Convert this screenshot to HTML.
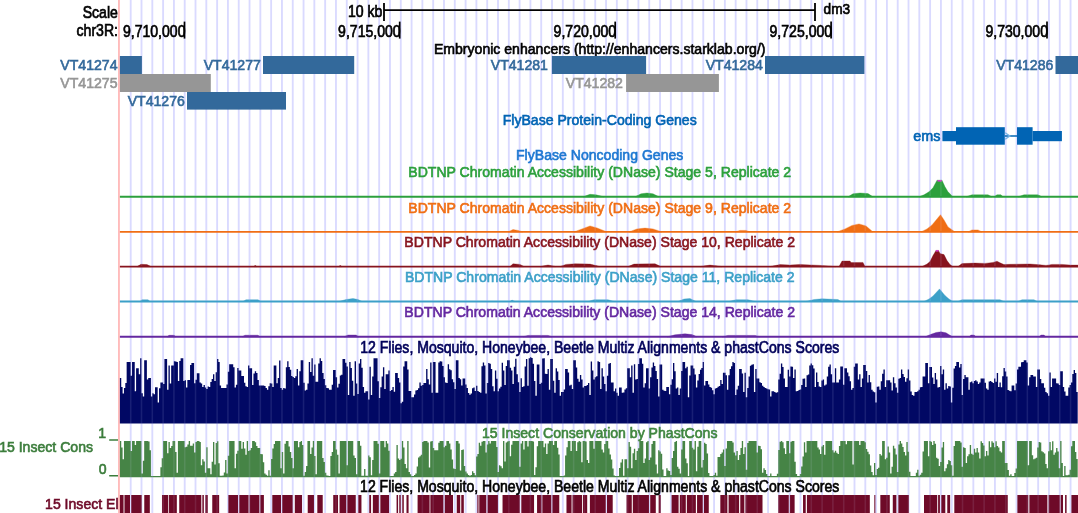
<!DOCTYPE html>
<html><head><meta charset="utf-8"><title>UCSC Genome Browser</title>
<style>
html,body{margin:0;padding:0;background:#fff;}
body{width:1078px;height:513px;overflow:hidden;}
svg{display:block;font-family:"Liberation Sans",sans-serif;opacity:0.9999;will-change:transform;}
</style></head><body>
<svg width="1078" height="513" viewBox="0 0 1078 513">
<rect width="1078" height="513" fill="#fff"/>
<path d="M130.70 0V513 M141.51 0V513 M152.31 0V513 M163.11 0V513 M173.92 0V513 M184.72 0V513 M195.52 0V513 M206.32 0V513 M217.13 0V513 M227.93 0V513 M238.73 0V513 M249.54 0V513 M260.34 0V513 M271.14 0V513 M281.95 0V513 M292.75 0V513 M303.55 0V513 M314.35 0V513 M325.16 0V513 M335.96 0V513 M346.76 0V513 M357.57 0V513 M368.37 0V513 M379.17 0V513 M389.98 0V513 M400.78 0V513 M411.58 0V513 M422.38 0V513 M433.19 0V513 M443.99 0V513 M454.79 0V513 M465.60 0V513 M476.40 0V513 M487.20 0V513 M498.00 0V513 M508.81 0V513 M519.61 0V513 M530.41 0V513 M541.22 0V513 M552.02 0V513 M562.82 0V513 M573.63 0V513 M584.43 0V513 M595.23 0V513 M606.04 0V513 M616.84 0V513 M627.64 0V513 M638.44 0V513 M649.25 0V513 M660.05 0V513 M670.85 0V513 M681.66 0V513 M692.46 0V513 M703.26 0V513 M714.07 0V513 M724.87 0V513 M735.67 0V513 M746.47 0V513 M757.28 0V513 M768.08 0V513 M778.88 0V513 M789.69 0V513 M800.49 0V513 M811.29 0V513 M822.10 0V513 M832.90 0V513 M843.70 0V513 M854.50 0V513 M865.31 0V513 M876.11 0V513 M886.91 0V513 M897.72 0V513 M908.52 0V513 M919.32 0V513 M930.12 0V513 M940.93 0V513 M951.73 0V513 M962.53 0V513 M973.34 0V513 M984.14 0V513 M994.94 0V513 M1005.75 0V513 M1016.55 0V513 M1027.35 0V513 M1038.16 0V513 M1048.96 0V513 M1059.76 0V513 M1070.56 0V513" stroke="#dadaff" stroke-width="1.85" fill="none"/>
<rect x="118.10" y="0.00" width="1.70" height="513.00" fill="#ffb4b4"/>
<text transform="translate(117.90,18.00) scale(1,1.12)" text-anchor="end" fill="#000" font-size="14.08" stroke="#000" stroke-width="0.6">Scale</text>
<text transform="translate(382.30,16.50) scale(1,1.11)" text-anchor="end" fill="#000" font-size="14.08" stroke="#000" stroke-width="0.6">10 kb</text>
<path d="M384.0 3.1V20.9M815.00 3.1V20.9M384.0 10.2H815.00" stroke="#000" stroke-width="1.8" fill="none"/>
<text transform="translate(823.60,13.50) scale(1,1.1)" text-anchor="start" fill="#000" font-size="13.7" stroke="#000" stroke-width="0.6">dm3</text>
<text transform="translate(118.00,36.10) scale(1,1.13)" text-anchor="end" fill="#000" font-size="14.08" stroke="#000" stroke-width="0.6">chr3R:</text>
<path d="M184.50 21.6V38.6" stroke="#000" stroke-width="1.7"/>
<text transform="translate(185.50,37.10) scale(1,1.11)" text-anchor="end" fill="#000" font-size="14.08" stroke="#000" stroke-width="0.6">9,710,000</text>
<path d="M399.70 21.6V38.6" stroke="#000" stroke-width="1.7"/>
<text transform="translate(400.70,37.10) scale(1,1.11)" text-anchor="end" fill="#000" font-size="14.08" stroke="#000" stroke-width="0.6">9,715,000</text>
<path d="M615.20 21.6V38.6" stroke="#000" stroke-width="1.7"/>
<text transform="translate(616.20,37.10) scale(1,1.11)" text-anchor="end" fill="#000" font-size="14.08" stroke="#000" stroke-width="0.6">9,720,000</text>
<path d="M831.10 21.6V38.6" stroke="#000" stroke-width="1.7"/>
<text transform="translate(832.10,37.10) scale(1,1.11)" text-anchor="end" fill="#000" font-size="14.08" stroke="#000" stroke-width="0.6">9,725,000</text>
<path d="M1047.00 21.6V38.6" stroke="#000" stroke-width="1.7"/>
<text transform="translate(1048.00,37.10) scale(1,1.11)" text-anchor="end" fill="#000" font-size="14.08" stroke="#000" stroke-width="0.6">9,730,000</text>
<text transform="translate(599.70,53.80) scale(1,1.03)" text-anchor="middle" fill="#000" font-size="14.08" stroke="#000" stroke-width="0.6">Embryonic enhancers (http://enhancers.starklab.org/)</text>
<rect x="119.90" y="56.00" width="22.00" height="18.00" fill="#33699b"/>
<text transform="translate(117.50,69.90) scale(1,1.0)" text-anchor="end" fill="#33699b" font-size="14.08" stroke="#33699b" stroke-width="0.6">VT41274</text>
<rect x="119.90" y="74.00" width="90.90" height="18.00" fill="#969696"/>
<text transform="translate(117.50,87.90) scale(1,1.0)" text-anchor="end" fill="#969696" font-size="14.08" stroke="#969696" stroke-width="0.6">VT41275</text>
<rect x="187.00" y="92.00" width="99.00" height="17.60" fill="#33699b"/>
<text transform="translate(184.80,105.90) scale(1,1.0)" text-anchor="end" fill="#33699b" font-size="14.08" stroke="#33699b" stroke-width="0.6">VT41276</text>
<rect x="263.00" y="56.00" width="91.20" height="18.00" fill="#33699b"/>
<text transform="translate(260.80,69.90) scale(1,1.0)" text-anchor="end" fill="#33699b" font-size="14.08" stroke="#33699b" stroke-width="0.6">VT41277</text>
<rect x="551.90" y="56.00" width="94.20" height="18.00" fill="#33699b"/>
<text transform="translate(547.90,69.90) scale(1,1.0)" text-anchor="end" fill="#33699b" font-size="14.08" stroke="#33699b" stroke-width="0.6">VT41281</text>
<rect x="626.10" y="74.00" width="92.80" height="18.00" fill="#969696"/>
<text transform="translate(622.90,87.90) scale(1,1.0)" text-anchor="end" fill="#969696" font-size="14.08" stroke="#969696" stroke-width="0.6">VT41282</text>
<rect x="765.00" y="56.00" width="99.40" height="18.00" fill="#33699b"/>
<text transform="translate(762.80,69.90) scale(1,1.0)" text-anchor="end" fill="#33699b" font-size="14.08" stroke="#33699b" stroke-width="0.6">VT41284</text>
<rect x="1055.50" y="56.00" width="22.50" height="18.00" fill="#33699b"/>
<text transform="translate(1053.30,69.90) scale(1,1.0)" text-anchor="end" fill="#33699b" font-size="14.08" stroke="#33699b" stroke-width="0.6">VT41286</text>
<text transform="translate(599.70,124.90) scale(1,1.03)" text-anchor="middle" fill="#0064b4" font-size="14.08" stroke="#0064b4" stroke-width="0.6">FlyBase Protein-Coding Genes</text>
<text transform="translate(940.50,141.00) scale(1,1.0)" text-anchor="end" fill="#0064b4" font-size="14.4" stroke="#0064b4" stroke-width="0.6">ems</text>
<rect x="942.40" y="131.00" width="13.60" height="10.20" fill="#0064b4"/>
<rect x="956.00" y="127.20" width="48.80" height="17.50" fill="#0064b4"/>
<path d="M1004.8 136H1017" stroke="#0064b4" stroke-width="1.5"/>
<path d="M1005.2 132.8L1009.8 136L1005.2 139.2" stroke="#78b4e6" stroke-width="1.4" fill="none"/>
<rect x="1017.00" y="127.20" width="15.60" height="17.50" fill="#0064b4"/>
<rect x="1032.60" y="131.00" width="29.30" height="10.20" fill="#0064b4"/>
<text transform="translate(599.70,160.00) scale(1,1.03)" text-anchor="middle" fill="#1e78d2" font-size="14.08" stroke="#1e78d2" stroke-width="0.6">FlyBase Noncoding Genes</text>
<text transform="translate(599.70,177.40) scale(1,1.03)" text-anchor="middle" fill="#2ca03c" font-size="14.08" stroke="#2ca03c" stroke-width="0.6">BDTNP Chromatin Accessibility (DNase) Stage 5, Replicate 2</text>
<path d="M119.9 196.8H1078" stroke="#2ca03c" stroke-width="1.9"/>
<path d="M583.0 196.8L590.0 194.3L596.0 194.8L604.0 196.8ZM635.0 196.8L641.0 193.8L647.0 193.0L653.0 193.8L659.0 196.8ZM848.0 196.8L853.0 193.8L860.0 193.0L868.0 193.6L873.0 196.8ZM919.0 196.8L924.0 194.8L929.0 191.8L933.0 187.8L937.0 180.2L942.0 180.2L945.0 186.8L948.0 191.8L953.0 196.8ZM966.0 196.8L972.0 194.8L988.0 194.8L992.0 196.8ZM994.0 196.8L997.0 194.8L1001.0 194.8L1003.0 196.8ZM1018.0 196.8L1024.0 194.8L1038.0 194.8L1042.0 196.8Z" fill="#2ca03c" stroke="#2ca03c" stroke-width="0.35" stroke-linejoin="round"/>
<text transform="translate(599.70,212.80) scale(1,1.03)" text-anchor="middle" fill="#f06e14" font-size="14.08" stroke="#f06e14" stroke-width="0.6">BDTNP Chromatin Accessibility (DNase) Stage 9, Replicate 2</text>
<path d="M119.9 231.9H1078" stroke="#f06e14" stroke-width="1.9"/>
<path d="M508.0 231.9L513.0 229.6L518.0 230.4L523.0 231.9ZM574.0 231.9L582.0 228.9L590.0 225.9L597.0 227.9L607.0 231.9ZM629.0 231.9L637.0 228.9L645.0 228.1L653.0 228.9L662.0 231.9ZM735.0 231.9L740.0 230.4L746.0 230.4L750.0 231.9ZM837.0 231.9L845.0 228.9L852.0 225.4L859.0 223.9L866.0 225.9L873.0 231.9ZM921.0 231.9L927.0 228.9L932.0 224.9L937.0 218.9L940.5 214.7L944.0 219.9L948.0 226.9L955.0 231.9ZM968.0 231.9L972.0 229.9L978.0 229.9L982.0 231.9Z" fill="#f06e14" stroke="#f06e14" stroke-width="0.35" stroke-linejoin="round"/>
<text transform="translate(599.70,247.30) scale(1,1.03)" text-anchor="middle" fill="#87141e" font-size="14.08" stroke="#87141e" stroke-width="0.6">BDTNP Chromatin Accessibility (DNase) Stage 10, Replicate 2</text>
<path d="M119.9 266.6H1078" stroke="#87141e" stroke-width="1.9"/>
<path d="M137.0 266.6L141.0 264.3L147.0 264.6L151.0 266.6ZM254.0 266.6L255.0 265.3L257.0 266.6ZM339.0 266.6L340.0 265.3L342.0 266.6ZM510.0 266.6L513.0 263.8L520.0 264.4L524.0 266.6ZM540.0 266.6L548.0 265.0L556.0 266.6ZM560.0 266.6L566.0 264.4L575.0 263.8L590.0 264.1L600.0 266.6ZM628.0 266.6L634.0 264.1L655.0 263.8L661.0 266.6ZM700.0 266.6L710.0 265.1L722.0 266.6ZM770.0 266.6L780.0 264.6L790.0 265.1L800.0 264.4L820.0 265.4L836.0 266.6ZM839.0 266.6L842.0 261.1L850.0 261.0L851.0 262.6L863.0 262.4L865.0 266.6ZM922.0 266.6L927.0 264.1L930.0 261.6L933.0 255.6L936.0 250.4L938.5 250.4L940.0 253.6L944.0 254.6L947.0 260.6L950.0 264.6L953.0 266.6ZM958.0 266.6L962.0 263.6L975.0 263.1L985.0 263.4L993.0 262.4L997.0 261.2L1000.0 262.8L1004.0 264.6L1010.0 264.3L1030.0 264.0L1040.0 264.8L1046.0 265.4L1052.0 264.4L1062.0 264.4L1070.0 265.1L1078.0 265.1L1078.0 266.6Z" fill="#87141e" stroke="#87141e" stroke-width="0.35" stroke-linejoin="round"/>
<text transform="translate(599.70,281.70) scale(1,1.03)" text-anchor="middle" fill="#3ca0c8" font-size="14.08" stroke="#3ca0c8" stroke-width="0.6">BDTNP Chromatin Accessibility (DNase) Stage 11, Replicate 2</text>
<path d="M119.9 301.5H1078" stroke="#3ca0c8" stroke-width="1.9"/>
<path d="M140.0 301.5L142.0 299.7L148.0 299.7L150.0 301.5ZM243.0 301.5L246.0 299.7L258.0 299.7L261.0 301.5ZM339.0 301.5L346.0 299.5L353.0 298.5L358.0 299.5L362.0 301.5ZM510.0 301.5L512.0 300.1L515.0 301.5ZM588.0 301.5L594.0 299.7L608.0 299.7L614.0 301.5ZM678.0 301.5L684.0 299.0L690.0 298.5L696.0 301.5ZM729.0 301.5L736.0 299.7L748.0 299.7L755.0 301.5ZM806.0 301.5L814.0 299.5L822.0 298.8L838.0 299.5L841.0 301.5ZM924.0 301.5L929.0 299.0L933.0 296.0L939.5 288.9L945.0 295.5L949.0 299.0L953.0 301.5ZM958.0 301.5L962.0 299.7L1000.0 299.7L1004.0 301.5ZM1018.0 301.5L1022.0 299.7L1034.0 299.7L1037.0 301.5Z" fill="#3ca0c8" stroke="#3ca0c8" stroke-width="0.35" stroke-linejoin="round"/>
<text transform="translate(599.70,316.70) scale(1,1.03)" text-anchor="middle" fill="#6428a0" font-size="14.08" stroke="#6428a0" stroke-width="0.6">BDTNP Chromatin Accessibility (DNase) Stage 14, Replicate 2</text>
<path d="M119.9 336.8H1078" stroke="#6428a0" stroke-width="1.9"/>
<path d="M167.0 336.8L169.0 335.3L174.0 335.3L176.0 336.8ZM242.0 336.8L245.0 335.2L258.0 335.2L260.0 336.8ZM344.0 336.8L348.0 335.0L356.0 335.0L359.0 336.8ZM523.0 336.8L528.0 335.4L548.0 335.4L552.0 336.8ZM667.0 336.8L675.0 334.8L685.0 333.8L692.0 334.6L697.0 336.8ZM722.0 336.8L728.0 335.4L755.0 335.4L760.0 336.8ZM925.0 336.8L931.0 334.3L936.0 332.5L941.0 331.8L946.0 332.8L950.0 335.3L953.0 336.8ZM969.0 336.8L971.0 335.0L974.0 335.0L976.0 336.8ZM1039.0 336.8L1041.0 335.0L1044.0 335.0L1046.0 336.8Z" fill="#6428a0" stroke="#6428a0" stroke-width="0.35" stroke-linejoin="round"/>
<rect x="937.50" y="180.00" width="4.20" height="1.60" fill="#d23cc8"/>
<rect x="935.80" y="250.00" width="2.80" height="1.60" fill="#d23cc8"/>
<text transform="translate(599.70,353.00) scale(1,1.14)" text-anchor="middle" fill="#00005a" font-size="14.08" stroke="#00005a" stroke-width="0.6">12 Flies, Mosquito, Honeybee, Beetle Multiz Alignments &amp; phastCons Scores</text>
<text transform="translate(599.70,438.20) scale(1,1.1)" text-anchor="middle" fill="#3f863f" font-size="14.08" stroke="#3f863f" stroke-width="0.6">15 Insect Conservation by PhastCons</text>
<text transform="translate(599.70,491.90) scale(1,1.11)" text-anchor="middle" fill="#000" font-size="14.08" stroke="#000" stroke-width="0.6">12 Flies, Mosquito, Honeybee, Beetle Multiz Alignments &amp; phastCons Scores</text>
<path d="M119.9 423.5V378.0h1.349V386.9h1.349V393.6h1.349V388.1h1.349V383.1h1.349V362.1h1.349V362.1h1.349V362.1h1.349V375.7h1.349V362.1h1.349V362.1h1.349V391.3h1.349V368.3h1.349V368.3h1.349V374.3h1.349V358.2h1.349V393.3h1.349V396.5h1.349V360.2h1.349V360.2h1.349V379.5h1.349V378.0h1.349V378.0h1.349V396.5h1.349V393.3h1.349V394.3h1.349V387.2h1.349V387.2h1.349V402.5h1.349V388.2h1.349V382.4h1.349V382.4h1.349V383.9h1.349V359.1h1.349V359.1h1.349V389.8h1.349V365.4h1.349V383.5h1.349V365.4h1.349V365.4h1.349V361.2h1.349V361.6h1.349V362.1h1.349V380.9h1.349V361.1h1.349V358.2h1.349V358.2h1.349V380.9h1.349V380.2h1.349V387.6h1.349V379.9h1.349V379.9h1.349V365.1h1.349V363.1h1.349V363.1h1.349V383.2h1.349V379.8h1.349V373.2h1.349V373.2h1.349V382.5h1.349V383.6h1.349V386.9h1.349V384.9h1.349V387.6h1.349V389.1h1.349V386.5h1.349V386.9h1.349V382.1h1.349V379.0h1.349V374.3h1.349V380.9h1.349V372.3h1.349V359.1h1.349V362.1h1.349V385.4h1.349V387.9h1.349V387.9h1.349V387.9h1.349V387.9h1.349V384.4h1.349V371.8h1.349V364.2h1.349V364.2h1.349V364.2h1.349V367.2h1.349V387.6h1.349V384.8h1.349V368.0h1.349V370.6h1.349V370.6h1.349V376.0h1.349V376.0h1.349V382.8h1.349V386.3h1.349V386.9h1.349V365.4h1.349V368.3h1.349V368.3h1.349V384.9h1.349V373.6h1.349V371.3h1.349V373.0h1.349V380.0h1.349V385.4h1.349V385.4h1.349V385.4h1.349V385.4h1.349V385.9h1.349V387.9h1.349V389.8h1.349V386.3h1.349V383.2h1.349V383.6h1.349V386.9h1.349V365.4h1.349V365.4h1.349V383.2h1.349V378.0h1.349V360.6h1.349V388.0h1.349V389.8h1.349V387.9h1.349V388.4h1.349V367.2h1.349V361.2h1.349V367.1h1.349V369.8h1.349V376.0h1.349V377.0h1.349V378.0h1.349V376.2h1.349V369.1h1.349V385.4h1.349V371.3h1.349V360.2h1.349V360.2h1.349V382.8h1.349V390.6h1.349V389.7h1.349V383.6h1.349V362.1h1.349V372.0h1.349V358.2h1.349V375.7h1.349V364.6h1.349V381.7h1.349V381.7h1.349V363.5h1.349V358.2h1.349V361.0h1.349V373.0h1.349V379.1h1.349V385.2h1.349V387.9h1.349V388.3h1.349V389.8h1.349V389.8h1.349V384.8h1.349V370.1h1.349V370.1h1.349V377.2h1.349V387.6h1.349V383.7h1.349V375.4h1.349V374.8h1.349V359.1h1.349V359.1h1.349V362.8h1.349V366.5h1.349V395.0h1.349V362.1h1.349V368.0h1.349V380.8h1.349V395.8h1.349V361.2h1.349V383.4h1.349V393.9h1.349V363.6h1.349V359.1h1.349V367.8h1.349V387.0h1.349V392.8h1.349V391.3h1.349V391.3h1.349V399.5h1.349V366.8h1.349V395.0h1.349V376.5h1.349V358.2h1.349V358.2h1.349V358.2h1.349V381.2h1.349V398.0h1.349V387.2h1.349V376.4h1.349V367.2h1.349V389.1h1.349V374.3h1.349V374.3h1.349V370.6h1.349V390.9h1.349V390.0h1.349V386.9h1.349V391.8h1.349V373.1h1.349V373.1h1.349V378.1h1.349V382.4h1.349V403.2h1.349V401.8h1.349V366.6h1.349V361.2h1.349V361.2h1.349V369.6h1.349V390.9h1.349V390.9h1.349V397.3h1.349V397.2h1.349V394.4h1.349V390.6h1.349V390.1h1.349V388.3h1.349V382.4h1.349V385.8h1.349V385.1h1.349V383.1h1.349V382.9h1.349V369.1h1.349V379.3h1.349V384.4h1.349V362.4h1.349V392.8h1.349V362.1h1.349V362.1h1.349V392.8h1.349V392.8h1.349V362.6h1.349V361.2h1.349V361.4h1.349V366.1h1.349V377.2h1.349V382.6h1.349V382.9h1.349V364.2h1.349V369.2h1.349V370.3h1.349V379.2h1.349V382.2h1.349V389.1h1.349V360.2h1.349V360.2h1.349V378.1h1.349V379.3h1.349V385.4h1.349V378.4h1.349V378.4h1.349V384.6h1.349V387.9h1.349V392.9h1.349V394.7h1.349V393.4h1.349V388.2h1.349V387.6h1.349V390.9h1.349V385.8h1.349V391.0h1.349V392.1h1.349V392.8h1.349V366.3h1.349V362.4h1.349V365.6h1.349V393.6h1.349V383.0h1.349V363.1h1.349V363.7h1.349V369.0h1.349V386.3h1.349V391.3h1.349V370.6h1.349V378.7h1.349V391.3h1.349V388.5h1.349V386.8h1.349V362.7h1.349V370.5h1.349V384.9h1.349V365.9h1.349V360.2h1.349V360.2h1.349V367.7h1.349V370.4h1.349V383.9h1.349V366.8h1.349V358.7h1.349V374.3h1.349V382.2h1.349V392.1h1.349V378.3h1.349V386.9h1.349V386.2h1.349V366.5h1.349V359.1h1.349V385.8h1.349V358.2h1.349V357.2h1.349V357.9h1.349V363.7h1.349V381.0h1.349V395.8h1.349V364.6h1.349V364.6h1.349V383.9h1.349V382.8h1.349V358.6h1.349V358.2h1.349V373.7h1.349V374.0h1.349V369.1h1.349V389.8h1.349V359.1h1.349V359.1h1.349V380.8h1.349V392.8h1.349V368.3h1.349V371.4h1.349V380.0h1.349V395.8h1.349V392.1h1.349V392.1h1.349V389.6h1.349V369.1h1.349V369.1h1.349V372.6h1.349V385.4h1.349V384.7h1.349V389.1h1.349V360.2h1.349V360.2h1.349V367.6h1.349V378.8h1.349V381.7h1.349V375.0h1.349V379.6h1.349V387.6h1.349V386.1h1.349V386.1h1.349V384.9h1.349V383.0h1.349V395.0h1.349V361.6h1.349V370.5h1.349V379.5h1.349V377.3h1.349V376.2h1.349V361.2h1.349V362.1h1.349V389.1h1.349V368.3h1.349V376.6h1.349V384.1h1.349V391.3h1.349V375.7h1.349V363.8h1.349V363.1h1.349V382.4h1.349V382.4h1.349V391.3h1.349V388.4h1.349V392.8h1.349V395.8h1.349V387.6h1.349V387.6h1.349V392.8h1.349V392.4h1.349V389.6h1.349V388.3h1.349V368.3h1.349V368.3h1.349V377.2h1.349V365.4h1.349V392.8h1.349V364.2h1.349V379.5h1.349V378.9h1.349V363.9h1.349V358.2h1.349V358.2h1.349V363.8h1.349V387.6h1.349V383.3h1.349V368.3h1.349V368.3h1.349V388.4h1.349V377.2h1.349V367.6h1.349V362.4h1.349V365.9h1.349V371.1h1.349V378.9h1.349V396.5h1.349V364.6h1.349V364.6h1.349V389.7h1.349V390.7h1.349V390.9h1.349V386.9h1.349V386.9h1.349V394.3h1.349V384.8h1.349V379.3h1.349V363.1h1.349V371.3h1.349V388.4h1.349V387.4h1.349V395.0h1.349V388.6h1.349V371.0h1.349V362.1h1.349V362.1h1.349V368.3h1.349V366.8h1.349V397.3h1.349V375.6h1.349V365.4h1.349V365.5h1.349V368.6h1.349V374.6h1.349V387.6h1.349V380.5h1.349V373.9h1.349V369.7h1.349V368.1h1.349V362.1h1.349V385.4h1.349V380.9h1.349V380.9h1.349V384.4h1.349V387.0h1.349V387.7h1.349V390.3h1.349V394.3h1.349V388.4h1.349V388.0h1.349V386.7h1.349V386.0h1.349V379.9h1.349V383.9h1.349V372.8h1.349V372.8h1.349V375.2h1.349V389.8h1.349V375.2h1.349V369.1h1.349V366.3h1.349V362.1h1.349V362.9h1.349V395.0h1.349V389.4h1.349V385.7h1.349V369.1h1.349V369.1h1.349V373.6h1.349V392.1h1.349V372.8h1.349V397.3h1.349V388.0h1.349V376.6h1.349V365.8h1.349V364.7h1.349V364.2h1.349V392.1h1.349V369.1h1.349V378.4h1.349V378.4h1.349V382.3h1.349V383.1h1.349V385.8h1.349V387.1h1.349V387.9h1.349V388.5h1.349V389.2h1.349V389.6h1.349V396.5h1.349V391.3h1.349V391.3h1.349V392.1h1.349V392.8h1.349V392.2h1.349V379.4h1.349V373.8h1.349V363.6h1.349V367.1h1.349V378.5h1.349V386.9h1.349V386.9h1.349V369.8h1.349V376.5h1.349V366.5h1.349V366.7h1.349V378.0h1.349V369.5h1.349V391.3h1.349V391.0h1.349V390.0h1.349V389.4h1.349V385.0h1.349V378.7h1.349V378.4h1.349V386.9h1.349V375.3h1.349V374.6h1.349V365.4h1.349V363.6h1.349V365.2h1.349V368.4h1.349V386.9h1.349V372.5h1.349V382.1h1.349V386.4h1.349V386.9h1.349V380.4h1.349V379.5h1.349V385.4h1.349V384.4h1.349V376.5h1.349V366.7h1.349V364.6h1.349V374.3h1.349V382.4h1.349V382.4h1.349V368.3h1.349V382.4h1.349V382.4h1.349V379.4h1.349V366.5h1.349V366.5h1.349V384.7h1.349V368.3h1.349V368.3h1.349V372.4h1.349V376.2h1.349V381.2h1.349V389.8h1.349V387.9h1.349V366.7h1.349V363.6h1.349V363.6h1.349V379.5h1.349V374.3h1.349V386.9h1.349V378.6h1.349V365.1h1.349V365.1h1.349V371.0h1.349V382.4h1.349V375.0h1.349V382.3h1.349V389.7h1.349V391.5h1.349V392.3h1.349V402.5h1.349V386.8h1.349V386.4h1.349V389.8h1.349V381.2h1.349V373.8h1.349V369.5h1.349V386.9h1.349V380.2h1.349V380.2h1.349V380.2h1.349V382.4h1.349V390.6h1.349V377.2h1.349V383.3h1.349V387.4h1.349V392.8h1.349V378.8h1.349V378.0h1.349V369.5h1.349V374.1h1.349V377.1h1.349V381.7h1.349V378.2h1.349V369.5h1.349V380.6h1.349V391.6h1.349V395.1h1.349V395.8h1.349V392.1h1.349V392.1h1.349V391.3h1.349V389.7h1.349V387.2h1.349V386.9h1.349V376.5h1.349V376.5h1.349V363.1h1.349V363.1h1.349V383.2h1.349V367.1h1.349V367.1h1.349V377.4h1.349V383.9h1.349V373.1h1.349V379.6h1.349V387.6h1.349V387.1h1.349V366.1h1.349V374.3h1.349V369.5h1.349V389.8h1.349V383.2h1.349V388.4h1.349V386.1h1.349V386.4h1.349V402.5h1.349V387.8h1.349V368.6h1.349V366.1h1.349V362.1h1.349V362.1h1.349V367.6h1.349V364.0h1.349V395.0h1.349V378.9h1.349V375.0h1.349V377.2h1.349V377.2h1.349V389.8h1.349V382.3h1.349V381.4h1.349V383.2h1.349V381.0h1.349V380.2h1.349V381.4h1.349V383.9h1.349V382.6h1.349V378.4h1.349V378.4h1.349V378.4h1.349V382.8h1.349V388.4h1.349V389.8h1.349V381.5h1.349V380.9h1.349V381.9h1.349V382.9h1.349V378.4h1.349V381.7h1.349V373.1h1.349V386.9h1.349V382.4h1.349V387.3h1.349V376.2h1.349V368.0h1.349V371.5h1.349V376.5h1.349V390.0h1.349V390.7h1.349V391.3h1.349V385.4h1.349V385.4h1.349V390.3h1.349V383.4h1.349V369.4h1.349V366.8h1.349V366.8h1.349V362.3h1.349V362.1h1.349V360.2h1.349V360.2h1.349V362.6h1.349V385.4h1.349V377.2h1.349V375.0h1.349V375.0h1.349V376.5h1.349V376.5h1.349V386.9h1.349V369.5h1.349V369.5h1.349V379.0h1.349V383.2h1.349V383.2h1.349V387.7h1.349V391.9h1.349V393.2h1.349V395.8h1.349V372.5h1.349V386.9h1.349V378.4h1.349V378.4h1.349V378.4h1.349V383.3h1.349V383.5h1.349V384.9h1.349V371.3h1.349V371.3h1.349V387.0h1.349V391.6h1.349V395.8h1.349V395.8h1.349V387.4h1.349V385.1h1.349V382.4h1.349V373.9h1.349V370.1h1.349V373.0h1.349V392.1h1.349V423.5Z" fill="#000864"/>
<path d="M119.9 477.3V441.0h1.349V447.4h1.349V459.3h1.349V441.0h1.349V441.0h1.349V441.0h1.349V441.0h1.349V441.0h1.349V451.0h1.349V441.0h1.349V441.0h1.349V445.0h1.349V441.0h1.349V441.0h1.349V441.0h1.349V441.0h1.349V473.5h1.349V460.8h1.349V441.0h1.349V441.0h1.349V441.0h1.349V441.4h1.349V450.2h1.349V476.1h1.349V476.1h1.349V476.1h1.349V476.1h1.349V476.1h1.349V476.1h1.349V476.1h1.349V467.2h1.349V458.2h1.349V441.0h1.349V441.0h1.349V441.0h1.349V453.3h1.349V442.0h1.349V448.0h1.349V446.0h1.349V441.0h1.349V441.0h1.349V452.1h1.349V472.8h1.349V441.0h1.349V441.0h1.349V441.0h1.349V441.0h1.349V441.0h1.349V447.3h1.349V446.7h1.349V444.5h1.349V441.0h1.349V445.8h1.349V445.8h1.349V443.5h1.349V452.5h1.349V441.9h1.349V441.0h1.349V441.0h1.349V441.9h1.349V465.3h1.349V459.3h1.349V461.6h1.349V472.8h1.349V447.3h1.349V468.3h1.349V468.3h1.349V474.3h1.349V461.7h1.349V442.0h1.349V464.5h1.349V442.9h1.349V441.3h1.349V463.2h1.349V475.8h1.349V475.8h1.349V475.6h1.349V472.6h1.349V460.0h1.349V473.5h1.349V455.8h1.349V441.0h1.349V441.0h1.349V441.0h1.349V441.0h1.349V468.3h1.349V453.8h1.349V450.8h1.349V441.0h1.349V441.0h1.349V448.8h1.349V442.0h1.349V448.5h1.349V454.8h1.349V441.0h1.349V451.0h1.349V450.2h1.349V447.9h1.349V441.0h1.349V441.0h1.349V442.2h1.349V446.1h1.349V448.0h1.349V448.0h1.349V454.0h1.349V454.3h1.349V462.2h1.349V473.5h1.349V474.7h1.349V475.8h1.349V470.2h1.349V475.8h1.349V459.1h1.349V448.5h1.349V443.9h1.349V441.0h1.349V441.0h1.349V441.0h1.349V441.0h1.349V468.3h1.349V452.1h1.349V473.5h1.349V443.8h1.349V441.0h1.349V441.0h1.349V446.5h1.349V451.9h1.349V457.9h1.349V468.3h1.349V441.0h1.349V441.0h1.349V441.0h1.349V447.3h1.349V441.9h1.349V441.0h1.349V444.9h1.349V475.8h1.349V472.0h1.349V466.0h1.349V441.0h1.349V441.0h1.349V454.0h1.349V447.4h1.349V441.0h1.349V455.9h1.349V474.3h1.349V441.0h1.349V441.0h1.349V441.0h1.349V441.0h1.349V458.1h1.349V462.0h1.349V472.8h1.349V475.5h1.349V475.8h1.349V476.1h1.349V456.1h1.349V452.0h1.349V441.0h1.349V441.0h1.349V449.6h1.349V454.8h1.349V473.5h1.349V441.0h1.349V441.0h1.349V441.0h1.349V441.0h1.349V441.0h1.349V465.3h1.349V441.0h1.349V441.0h1.349V441.0h1.349V441.0h1.349V455.6h1.349V458.1h1.349V474.3h1.349V441.0h1.349V441.0h1.349V445.7h1.349V475.8h1.349V475.8h1.349V469.0h1.349V475.8h1.349V475.8h1.349V455.5h1.349V457.3h1.349V475.3h1.349V459.9h1.349V441.0h1.349V441.0h1.349V441.0h1.349V443.7h1.349V473.5h1.349V441.0h1.349V441.0h1.349V441.0h1.349V447.3h1.349V441.0h1.349V443.4h1.349V450.8h1.349V476.0h1.349V476.1h1.349V475.9h1.349V473.4h1.349V472.1h1.349V445.0h1.349V458.5h1.349V460.0h1.349V458.7h1.349V441.0h1.349V447.5h1.349V463.9h1.349V468.3h1.349V441.0h1.349V471.9h1.349V474.3h1.349V476.0h1.349V476.1h1.349V475.1h1.349V473.5h1.349V466.4h1.349V457.5h1.349V456.3h1.349V454.8h1.349V442.0h1.349V441.0h1.349V441.0h1.349V441.0h1.349V442.5h1.349V467.5h1.349V441.6h1.349V441.0h1.349V448.1h1.349V450.3h1.349V450.3h1.349V450.3h1.349V442.8h1.349V441.0h1.349V441.0h1.349V441.0h1.349V447.3h1.349V445.7h1.349V441.0h1.349V441.0h1.349V443.5h1.349V449.6h1.349V459.4h1.349V468.4h1.349V469.0h1.349V441.0h1.349V441.0h1.349V443.5h1.349V470.5h1.349V449.9h1.349V449.5h1.349V466.1h1.349V471.6h1.349V473.6h1.349V474.9h1.349V475.8h1.349V475.0h1.349V471.3h1.349V473.1h1.349V475.3h1.349V456.4h1.349V454.0h1.349V442.8h1.349V445.8h1.349V441.7h1.349V441.0h1.349V441.0h1.349V452.5h1.349V444.6h1.349V441.0h1.349V443.5h1.349V441.0h1.349V441.0h1.349V441.0h1.349V441.0h1.349V447.0h1.349V472.0h1.349V465.3h1.349V466.2h1.349V468.3h1.349V441.0h1.349V461.5h1.349V442.6h1.349V441.4h1.349V441.0h1.349V456.3h1.349V444.8h1.349V441.0h1.349V441.0h1.349V441.0h1.349V441.0h1.349V441.0h1.349V466.8h1.349V443.4h1.349V441.0h1.349V449.5h1.349V441.0h1.349V441.0h1.349V446.5h1.349V441.0h1.349V441.0h1.349V441.0h1.349V441.6h1.349V475.0h1.349V467.3h1.349V446.2h1.349V441.0h1.349V441.0h1.349V441.0h1.349V441.0h1.349V447.3h1.349V443.4h1.349V454.0h1.349V443.6h1.349V441.0h1.349V441.0h1.349V441.0h1.349V445.0h1.349V441.0h1.349V441.0h1.349V447.8h1.349V454.6h1.349V476.1h1.349V476.1h1.349V476.1h1.349V475.5h1.349V455.5h1.349V447.2h1.349V441.0h1.349V441.0h1.349V451.0h1.349V441.0h1.349V441.0h1.349V441.0h1.349V451.0h1.349V442.2h1.349V441.0h1.349V441.7h1.349V462.3h1.349V441.0h1.349V441.0h1.349V441.6h1.349V460.0h1.349V463.0h1.349V441.0h1.349V441.0h1.349V441.0h1.349V448.8h1.349V441.0h1.349V441.0h1.349V441.0h1.349V441.0h1.349V441.0h1.349V449.5h1.349V452.5h1.349V444.0h1.349V441.0h1.349V441.0h1.349V448.4h1.349V454.6h1.349V459.6h1.349V468.5h1.349V475.6h1.349V476.0h1.349V476.1h1.349V476.1h1.349V468.1h1.349V462.5h1.349V459.3h1.349V475.8h1.349V459.3h1.349V459.3h1.349V468.3h1.349V442.0h1.349V446.7h1.349V468.3h1.349V453.3h1.349V448.8h1.349V460.0h1.349V451.0h1.349V448.3h1.349V441.0h1.349V441.0h1.349V441.0h1.349V463.0h1.349V458.5h1.349V442.3h1.349V441.0h1.349V460.0h1.349V457.6h1.349V444.0h1.349V441.0h1.349V441.0h1.349V464.4h1.349V473.5h1.349V450.3h1.349V451.5h1.349V453.7h1.349V469.6h1.349V475.9h1.349V476.1h1.349V468.3h1.349V470.6h1.349V471.1h1.349V475.0h1.349V458.0h1.349V451.1h1.349V442.0h1.349V441.0h1.349V466.8h1.349V468.8h1.349V473.5h1.349V449.6h1.349V441.0h1.349V441.0h1.349V458.6h1.349V463.2h1.349V476.1h1.349V441.0h1.349V441.0h1.349V447.7h1.349V449.5h1.349V441.0h1.349V471.3h1.349V446.8h1.349V441.0h1.349V441.0h1.349V467.5h1.349V459.9h1.349V442.8h1.349V444.1h1.349V453.6h1.349V473.1h1.349V476.0h1.349V476.1h1.349V476.1h1.349V474.9h1.349V472.8h1.349V475.8h1.349V457.0h1.349V457.0h1.349V454.0h1.349V452.5h1.349V449.5h1.349V466.0h1.349V448.5h1.349V441.0h1.349V441.0h1.349V441.0h1.349V441.0h1.349V442.4h1.349V452.4h1.349V455.5h1.349V451.0h1.349V460.0h1.349V455.0h1.349V447.9h1.349V441.0h1.349V454.0h1.349V447.3h1.349V469.8h1.349V443.0h1.349V441.0h1.349V441.0h1.349V441.0h1.349V441.0h1.349V441.0h1.349V441.0h1.349V452.5h1.349V445.8h1.349V446.0h1.349V449.3h1.349V472.8h1.349V468.3h1.349V469.9h1.349V474.1h1.349V476.1h1.349V476.0h1.349V473.5h1.349V476.1h1.349V476.1h1.349V476.1h1.349V476.1h1.349V473.7h1.349V449.9h1.349V441.8h1.349V441.0h1.349V442.2h1.349V448.2h1.349V454.0h1.349V441.0h1.349V441.0h1.349V453.3h1.349V441.7h1.349V441.0h1.349V441.0h1.349V461.7h1.349V473.9h1.349V475.9h1.349V476.1h1.349V474.1h1.349V466.6h1.349V456.6h1.349V442.3h1.349V452.5h1.349V441.0h1.349V441.0h1.349V441.0h1.349V441.0h1.349V441.0h1.349V441.0h1.349V441.0h1.349V441.0h1.349V447.6h1.349V449.5h1.349V454.0h1.349V446.4h1.349V445.0h1.349V454.8h1.349V441.0h1.349V441.0h1.349V441.0h1.349V441.0h1.349V441.0h1.349V450.3h1.349V452.5h1.349V450.8h1.349V452.8h1.349V454.0h1.349V445.9h1.349V441.0h1.349V441.0h1.349V441.0h1.349V441.0h1.349V444.3h1.349V441.0h1.349V441.0h1.349V441.0h1.349V441.0h1.349V464.5h1.349V441.0h1.349V441.0h1.349V441.0h1.349V441.0h1.349V445.0h1.349V441.0h1.349V441.0h1.349V441.0h1.349V442.2h1.349V449.1h1.349V451.7h1.349V454.2h1.349V465.6h1.349V472.0h1.349V475.3h1.349V463.0h1.349V475.0h1.349V469.0h1.349V467.7h1.349V454.0h1.349V455.5h1.349V441.0h1.349V441.0h1.349V459.3h1.349V457.8h1.349V446.5h1.349V452.4h1.349V473.5h1.349V466.8h1.349V445.8h1.349V448.4h1.349V454.6h1.349V472.0h1.349V444.5h1.349V441.0h1.349V443.6h1.349V447.1h1.349V451.9h1.349V455.5h1.349V442.0h1.349V451.8h1.349V471.7h1.349V476.1h1.349V476.1h1.349V476.1h1.349V476.1h1.349V472.8h1.349V469.7h1.349V475.8h1.349V474.8h1.349V472.7h1.349V451.6h1.349V441.0h1.349V441.0h1.349V441.0h1.349V456.3h1.349V441.0h1.349V441.7h1.349V445.0h1.349V441.0h1.349V443.7h1.349V457.8h1.349V458.8h1.349V466.0h1.349V461.9h1.349V447.6h1.349V442.0h1.349V471.3h1.349V468.2h1.349V464.3h1.349V460.0h1.349V461.1h1.349V465.3h1.349V475.8h1.349V446.0h1.349V441.0h1.349V441.0h1.349V441.0h1.349V441.0h1.349V442.6h1.349V466.8h1.349V447.3h1.349V447.9h1.349V463.0h1.349V456.3h1.349V454.3h1.349V445.0h1.349V453.8h1.349V454.8h1.349V448.8h1.349V452.5h1.349V448.0h1.349V452.5h1.349V458.5h1.349V441.3h1.349V442.9h1.349V445.6h1.349V456.3h1.349V451.0h1.349V455.5h1.349V441.3h1.349V447.3h1.349V441.3h1.349V442.8h1.349V447.3h1.349V441.3h1.349V445.9h1.349V447.6h1.349V451.2h1.349V452.5h1.349V441.0h1.349V441.0h1.349V463.0h1.349V463.0h1.349V470.1h1.349V475.8h1.349V474.3h1.349V476.1h1.349V476.1h1.349V473.1h1.349V468.4h1.349V441.0h1.349V441.0h1.349V441.0h1.349V441.0h1.349V441.0h1.349V441.0h1.349V441.0h1.349V441.0h1.349V465.3h1.349V441.0h1.349V441.0h1.349V455.3h1.349V459.3h1.349V458.6h1.349V457.8h1.349V447.6h1.349V442.0h1.349V442.5h1.349V451.2h1.349V452.3h1.349V453.6h1.349V464.0h1.349V468.3h1.349V451.3h1.349V442.0h1.349V450.3h1.349V441.3h1.349V454.8h1.349V452.6h1.349V448.0h1.349V451.5h1.349V468.3h1.349V441.0h1.349V463.1h1.349V476.1h1.349V466.0h1.349V475.3h1.349V475.2h1.349V474.7h1.349V469.7h1.349V446.3h1.349V441.0h1.349V441.0h1.349V452.0h1.349V459.0h1.349V477.3Z" fill="#468446"/>
<rect x="119.90" y="495.00" width="3.65" height="18.50" fill="#6e0a28"/>
<rect x="124.45" y="495.00" width="5.55" height="18.50" fill="#6e0a28"/>
<rect x="131.21" y="495.00" width="10.51" height="18.50" fill="#6e0a28"/>
<rect x="144.27" y="495.00" width="5.55" height="18.50" fill="#6e0a28"/>
<rect x="161.98" y="495.00" width="6.30" height="18.50" fill="#6e0a28"/>
<rect x="169.03" y="495.00" width="7.80" height="18.50" fill="#6e0a28"/>
<rect x="179.24" y="495.00" width="22.06" height="18.50" fill="#6e0a28"/>
<rect x="202.35" y="495.00" width="1.50" height="18.50" fill="#6e0a28"/>
<rect x="205.35" y="495.00" width="2.40" height="18.50" fill="#6e0a28"/>
<rect x="212.26" y="495.00" width="6.90" height="18.50" fill="#6e0a28"/>
<rect x="228.32" y="495.00" width="9.76" height="18.50" fill="#6e0a28"/>
<rect x="239.28" y="495.00" width="9.31" height="18.50" fill="#6e0a28"/>
<rect x="249.48" y="495.00" width="9.91" height="18.50" fill="#6e0a28"/>
<rect x="260.29" y="495.00" width="3.60" height="18.50" fill="#6e0a28"/>
<rect x="272.30" y="495.00" width="5.70" height="18.50" fill="#6e0a28"/>
<rect x="278.00" y="495.00" width="3.00" height="18.50" fill="#6e0a28"/>
<rect x="282.20" y="495.00" width="10.51" height="18.50" fill="#6e0a28"/>
<rect x="294.81" y="495.00" width="7.20" height="18.50" fill="#6e0a28"/>
<rect x="307.72" y="495.00" width="6.30" height="18.50" fill="#6e0a28"/>
<rect x="317.32" y="495.00" width="5.40" height="18.50" fill="#6e0a28"/>
<rect x="333.23" y="495.00" width="4.80" height="18.50" fill="#6e0a28"/>
<rect x="339.54" y="495.00" width="6.75" height="18.50" fill="#6e0a28"/>
<rect x="347.34" y="495.00" width="8.41" height="18.50" fill="#6e0a28"/>
<rect x="358.30" y="495.00" width="3.15" height="18.50" fill="#6e0a28"/>
<rect x="369.26" y="495.00" width="1.80" height="18.50" fill="#6e0a28"/>
<rect x="372.86" y="495.00" width="6.00" height="18.50" fill="#6e0a28"/>
<rect x="380.36" y="495.00" width="8.71" height="18.50" fill="#6e0a28"/>
<rect x="396.57" y="495.00" width="1.50" height="18.50" fill="#6e0a28"/>
<rect x="399.28" y="495.00" width="1.50" height="18.50" fill="#6e0a28"/>
<rect x="402.28" y="495.00" width="1.50" height="18.50" fill="#6e0a28"/>
<rect x="406.48" y="495.00" width="2.10" height="18.50" fill="#6e0a28"/>
<rect x="417.59" y="495.00" width="12.01" height="18.50" fill="#6e0a28"/>
<rect x="430.35" y="495.00" width="7.65" height="18.50" fill="#6e0a28"/>
<rect x="438.00" y="495.00" width="5.40" height="18.50" fill="#6e0a28"/>
<rect x="444.75" y="495.00" width="8.26" height="18.50" fill="#6e0a28"/>
<rect x="456.76" y="495.00" width="3.45" height="18.50" fill="#6e0a28"/>
<rect x="461.26" y="495.00" width="2.55" height="18.50" fill="#6e0a28"/>
<rect x="477.32" y="495.00" width="1.20" height="18.50" fill="#6e0a28"/>
<rect x="479.28" y="495.00" width="7.05" height="18.50" fill="#6e0a28"/>
<rect x="487.53" y="495.00" width="10.51" height="18.50" fill="#6e0a28"/>
<rect x="502.54" y="495.00" width="17.26" height="18.50" fill="#6e0a28"/>
<rect x="521.30" y="495.00" width="12.76" height="18.50" fill="#6e0a28"/>
<rect x="537.06" y="495.00" width="4.50" height="18.50" fill="#6e0a28"/>
<rect x="542.32" y="495.00" width="9.01" height="18.50" fill="#6e0a28"/>
<rect x="552.37" y="495.00" width="6.90" height="18.50" fill="#6e0a28"/>
<rect x="566.48" y="495.00" width="5.10" height="18.50" fill="#6e0a28"/>
<rect x="572.48" y="495.00" width="9.61" height="18.50" fill="#6e0a28"/>
<rect x="582.99" y="495.00" width="4.20" height="18.50" fill="#6e0a28"/>
<rect x="589.89" y="495.00" width="8.11" height="18.50" fill="#6e0a28"/>
<rect x="598.00" y="495.00" width="7.80" height="18.50" fill="#6e0a28"/>
<rect x="607.01" y="495.00" width="5.70" height="18.50" fill="#6e0a28"/>
<rect x="626.52" y="495.00" width="5.25" height="18.50" fill="#6e0a28"/>
<rect x="632.82" y="495.00" width="16.21" height="18.50" fill="#6e0a28"/>
<rect x="650.23" y="495.00" width="5.55" height="18.50" fill="#6e0a28"/>
<rect x="658.64" y="495.00" width="2.10" height="18.50" fill="#6e0a28"/>
<rect x="671.55" y="495.00" width="7.05" height="18.50" fill="#6e0a28"/>
<rect x="679.80" y="495.00" width="6.00" height="18.50" fill="#6e0a28"/>
<rect x="686.86" y="495.00" width="9.01" height="18.50" fill="#6e0a28"/>
<rect x="697.06" y="495.00" width="5.70" height="18.50" fill="#6e0a28"/>
<rect x="703.97" y="495.00" width="4.80" height="18.50" fill="#6e0a28"/>
<rect x="720.33" y="495.00" width="7.05" height="18.50" fill="#6e0a28"/>
<rect x="728.58" y="495.00" width="10.51" height="18.50" fill="#6e0a28"/>
<rect x="740.29" y="495.00" width="4.05" height="18.50" fill="#6e0a28"/>
<rect x="745.39" y="495.00" width="12.61" height="18.50" fill="#6e0a28"/>
<rect x="758.00" y="495.00" width="4.50" height="18.50" fill="#6e0a28"/>
<rect x="778.26" y="495.00" width="10.51" height="18.50" fill="#6e0a28"/>
<rect x="789.82" y="495.00" width="4.80" height="18.50" fill="#6e0a28"/>
<rect x="803.03" y="495.00" width="2.70" height="18.50" fill="#6e0a28"/>
<rect x="806.93" y="495.00" width="62.89" height="18.50" fill="#6e0a28"/>
<rect x="874.32" y="495.00" width="1.05" height="18.50" fill="#6e0a28"/>
<rect x="880.33" y="495.00" width="9.46" height="18.50" fill="#6e0a28"/>
<rect x="892.78" y="495.00" width="3.60" height="18.50" fill="#6e0a28"/>
<rect x="898.34" y="495.00" width="10.51" height="18.50" fill="#6e0a28"/>
<rect x="924.00" y="495.00" width="13.21" height="18.50" fill="#6e0a28"/>
<rect x="938.11" y="495.00" width="1.80" height="18.50" fill="#6e0a28"/>
<rect x="941.26" y="495.00" width="4.05" height="18.50" fill="#6e0a28"/>
<rect x="947.27" y="495.00" width="2.85" height="18.50" fill="#6e0a28"/>
<rect x="954.32" y="495.00" width="53.43" height="18.50" fill="#6e0a28"/>
<rect x="1017.36" y="495.00" width="10.96" height="18.50" fill="#6e0a28"/>
<rect x="1029.37" y="495.00" width="18.01" height="18.50" fill="#6e0a28"/>
<rect x="1048.58" y="495.00" width="11.26" height="18.50" fill="#6e0a28"/>
<rect x="1060.59" y="495.00" width="2.40" height="18.50" fill="#6e0a28"/>
<rect x="1065.09" y="495.00" width="1.50" height="18.50" fill="#6e0a28"/>
<rect x="1071.40" y="495.00" width="6.60" height="18.50" fill="#6e0a28"/>
<path d="M130.70 179V196M130.70 214V231M130.70 249V266M130.70 288V301M130.70 331V336M130.70 357V424M130.70 440V478M130.70 495V513 M141.51 179V196M141.51 214V231M141.51 249V266M141.51 288V301M141.51 331V336M141.51 357V424M141.51 440V478M141.51 495V513 M152.31 179V196M152.31 214V231M152.31 249V266M152.31 288V301M152.31 331V336M152.31 357V424M152.31 440V478M152.31 495V513 M163.11 179V196M163.11 214V231M163.11 249V266M163.11 288V301M163.11 331V336M163.11 357V424M163.11 440V478M163.11 495V513 M173.92 179V196M173.92 214V231M173.92 249V266M173.92 288V301M173.92 331V336M173.92 357V424M173.92 440V478M173.92 495V513 M184.72 179V196M184.72 214V231M184.72 249V266M184.72 288V301M184.72 331V336M184.72 357V424M184.72 440V478M184.72 495V513 M195.52 179V196M195.52 214V231M195.52 249V266M195.52 288V301M195.52 331V336M195.52 357V424M195.52 440V478M195.52 495V513 M206.32 179V196M206.32 214V231M206.32 249V266M206.32 288V301M206.32 331V336M206.32 357V424M206.32 440V478M206.32 495V513 M217.13 179V196M217.13 214V231M217.13 249V266M217.13 288V301M217.13 331V336M217.13 357V424M217.13 440V478M217.13 495V513 M227.93 179V196M227.93 214V231M227.93 249V266M227.93 288V301M227.93 331V336M227.93 357V424M227.93 440V478M227.93 495V513 M238.73 179V196M238.73 214V231M238.73 249V266M238.73 288V301M238.73 331V336M238.73 357V424M238.73 440V478M238.73 495V513 M249.54 179V196M249.54 214V231M249.54 249V266M249.54 288V301M249.54 331V336M249.54 357V424M249.54 440V478M249.54 495V513 M260.34 179V196M260.34 214V231M260.34 249V266M260.34 288V301M260.34 331V336M260.34 357V424M260.34 440V478M260.34 495V513 M271.14 179V196M271.14 214V231M271.14 249V266M271.14 288V301M271.14 331V336M271.14 357V424M271.14 440V478M271.14 495V513 M281.95 179V196M281.95 214V231M281.95 249V266M281.95 288V301M281.95 331V336M281.95 357V424M281.95 440V478M281.95 495V513 M292.75 179V196M292.75 214V231M292.75 249V266M292.75 288V301M292.75 331V336M292.75 357V424M292.75 440V478M292.75 495V513 M303.55 179V196M303.55 214V231M303.55 249V266M303.55 288V301M303.55 331V336M303.55 357V424M303.55 440V478M303.55 495V513 M314.35 179V196M314.35 214V231M314.35 249V266M314.35 288V301M314.35 331V336M314.35 357V424M314.35 440V478M314.35 495V513 M325.16 179V196M325.16 214V231M325.16 249V266M325.16 288V301M325.16 331V336M325.16 357V424M325.16 440V478M325.16 495V513 M335.96 179V196M335.96 214V231M335.96 249V266M335.96 288V301M335.96 331V336M335.96 357V424M335.96 440V478M335.96 495V513 M346.76 179V196M346.76 214V231M346.76 249V266M346.76 288V301M346.76 331V336M346.76 357V424M346.76 440V478M346.76 495V513 M357.57 179V196M357.57 214V231M357.57 249V266M357.57 288V301M357.57 331V336M357.57 357V424M357.57 440V478M357.57 495V513 M368.37 179V196M368.37 214V231M368.37 249V266M368.37 288V301M368.37 331V336M368.37 357V424M368.37 440V478M368.37 495V513 M379.17 179V196M379.17 214V231M379.17 249V266M379.17 288V301M379.17 331V336M379.17 357V424M379.17 440V478M379.17 495V513 M389.98 179V196M389.98 214V231M389.98 249V266M389.98 288V301M389.98 331V336M389.98 357V424M389.98 440V478M389.98 495V513 M400.78 179V196M400.78 214V231M400.78 249V266M400.78 288V301M400.78 331V336M400.78 357V424M400.78 440V478M400.78 495V513 M411.58 179V196M411.58 214V231M411.58 249V266M411.58 288V301M411.58 331V336M411.58 357V424M411.58 440V478M411.58 495V513 M422.38 179V196M422.38 214V231M422.38 249V266M422.38 288V301M422.38 331V336M422.38 357V424M422.38 440V478M422.38 495V513 M433.19 179V196M433.19 214V231M433.19 249V266M433.19 288V301M433.19 331V336M433.19 357V424M433.19 440V478M433.19 495V513 M443.99 179V196M443.99 214V231M443.99 249V266M443.99 288V301M443.99 331V336M443.99 357V424M443.99 440V478M443.99 495V513 M454.79 179V196M454.79 214V231M454.79 249V266M454.79 288V301M454.79 331V336M454.79 357V424M454.79 440V478M454.79 495V513 M465.60 179V196M465.60 214V231M465.60 249V266M465.60 288V301M465.60 331V336M465.60 357V424M465.60 440V478M465.60 495V513 M476.40 179V196M476.40 214V231M476.40 249V266M476.40 288V301M476.40 331V336M476.40 357V424M476.40 440V478M476.40 495V513 M487.20 179V196M487.20 214V231M487.20 249V266M487.20 288V301M487.20 331V336M487.20 357V424M487.20 440V478M487.20 495V513 M498.00 179V196M498.00 214V231M498.00 249V266M498.00 288V301M498.00 331V336M498.00 357V424M498.00 440V478M498.00 495V513 M508.81 179V196M508.81 214V231M508.81 249V266M508.81 288V301M508.81 331V336M508.81 357V424M508.81 440V478M508.81 495V513 M519.61 179V196M519.61 214V231M519.61 249V266M519.61 288V301M519.61 331V336M519.61 357V424M519.61 440V478M519.61 495V513 M530.41 179V196M530.41 214V231M530.41 249V266M530.41 288V301M530.41 331V336M530.41 357V424M530.41 440V478M530.41 495V513 M541.22 179V196M541.22 214V231M541.22 249V266M541.22 288V301M541.22 331V336M541.22 357V424M541.22 440V478M541.22 495V513 M552.02 179V196M552.02 214V231M552.02 249V266M552.02 288V301M552.02 331V336M552.02 357V424M552.02 440V478M552.02 495V513 M562.82 179V196M562.82 214V231M562.82 249V266M562.82 288V301M562.82 331V336M562.82 357V424M562.82 440V478M562.82 495V513 M573.63 179V196M573.63 214V231M573.63 249V266M573.63 288V301M573.63 331V336M573.63 357V424M573.63 440V478M573.63 495V513 M584.43 179V196M584.43 214V231M584.43 249V266M584.43 288V301M584.43 331V336M584.43 357V424M584.43 440V478M584.43 495V513 M595.23 179V196M595.23 214V231M595.23 249V266M595.23 288V301M595.23 331V336M595.23 357V424M595.23 440V478M595.23 495V513 M606.04 179V196M606.04 214V231M606.04 249V266M606.04 288V301M606.04 331V336M606.04 357V424M606.04 440V478M606.04 495V513 M616.84 179V196M616.84 214V231M616.84 249V266M616.84 288V301M616.84 331V336M616.84 357V424M616.84 440V478M616.84 495V513 M627.64 179V196M627.64 214V231M627.64 249V266M627.64 288V301M627.64 331V336M627.64 357V424M627.64 440V478M627.64 495V513 M638.44 179V196M638.44 214V231M638.44 249V266M638.44 288V301M638.44 331V336M638.44 357V424M638.44 440V478M638.44 495V513 M649.25 179V196M649.25 214V231M649.25 249V266M649.25 288V301M649.25 331V336M649.25 357V424M649.25 440V478M649.25 495V513 M660.05 179V196M660.05 214V231M660.05 249V266M660.05 288V301M660.05 331V336M660.05 357V424M660.05 440V478M660.05 495V513 M670.85 179V196M670.85 214V231M670.85 249V266M670.85 288V301M670.85 331V336M670.85 357V424M670.85 440V478M670.85 495V513 M681.66 179V196M681.66 214V231M681.66 249V266M681.66 288V301M681.66 331V336M681.66 357V424M681.66 440V478M681.66 495V513 M692.46 179V196M692.46 214V231M692.46 249V266M692.46 288V301M692.46 331V336M692.46 357V424M692.46 440V478M692.46 495V513 M703.26 179V196M703.26 214V231M703.26 249V266M703.26 288V301M703.26 331V336M703.26 357V424M703.26 440V478M703.26 495V513 M714.07 179V196M714.07 214V231M714.07 249V266M714.07 288V301M714.07 331V336M714.07 357V424M714.07 440V478M714.07 495V513 M724.87 179V196M724.87 214V231M724.87 249V266M724.87 288V301M724.87 331V336M724.87 357V424M724.87 440V478M724.87 495V513 M735.67 179V196M735.67 214V231M735.67 249V266M735.67 288V301M735.67 331V336M735.67 357V424M735.67 440V478M735.67 495V513 M746.47 179V196M746.47 214V231M746.47 249V266M746.47 288V301M746.47 331V336M746.47 357V424M746.47 440V478M746.47 495V513 M757.28 179V196M757.28 214V231M757.28 249V266M757.28 288V301M757.28 331V336M757.28 357V424M757.28 440V478M757.28 495V513 M768.08 179V196M768.08 214V231M768.08 249V266M768.08 288V301M768.08 331V336M768.08 357V424M768.08 440V478M768.08 495V513 M778.88 179V196M778.88 214V231M778.88 249V266M778.88 288V301M778.88 331V336M778.88 357V424M778.88 440V478M778.88 495V513 M789.69 179V196M789.69 214V231M789.69 249V266M789.69 288V301M789.69 331V336M789.69 357V424M789.69 440V478M789.69 495V513 M800.49 179V196M800.49 214V231M800.49 249V266M800.49 288V301M800.49 331V336M800.49 357V424M800.49 440V478M800.49 495V513 M811.29 179V196M811.29 214V231M811.29 249V266M811.29 288V301M811.29 331V336M811.29 357V424M811.29 440V478M811.29 495V513 M822.10 179V196M822.10 214V231M822.10 249V266M822.10 288V301M822.10 331V336M822.10 357V424M822.10 440V478M822.10 495V513 M832.90 179V196M832.90 214V231M832.90 249V266M832.90 288V301M832.90 331V336M832.90 357V424M832.90 440V478M832.90 495V513 M843.70 179V196M843.70 214V231M843.70 249V266M843.70 288V301M843.70 331V336M843.70 357V424M843.70 440V478M843.70 495V513 M854.50 179V196M854.50 214V231M854.50 249V266M854.50 288V301M854.50 331V336M854.50 357V424M854.50 440V478M854.50 495V513 M865.31 179V196M865.31 214V231M865.31 249V266M865.31 288V301M865.31 331V336M865.31 357V424M865.31 440V478M865.31 495V513 M876.11 179V196M876.11 214V231M876.11 249V266M876.11 288V301M876.11 331V336M876.11 357V424M876.11 440V478M876.11 495V513 M886.91 179V196M886.91 214V231M886.91 249V266M886.91 288V301M886.91 331V336M886.91 357V424M886.91 440V478M886.91 495V513 M897.72 179V196M897.72 214V231M897.72 249V266M897.72 288V301M897.72 331V336M897.72 357V424M897.72 440V478M897.72 495V513 M908.52 179V196M908.52 214V231M908.52 249V266M908.52 288V301M908.52 331V336M908.52 357V424M908.52 440V478M908.52 495V513 M919.32 179V196M919.32 214V231M919.32 249V266M919.32 288V301M919.32 331V336M919.32 357V424M919.32 440V478M919.32 495V513 M930.12 179V196M930.12 214V231M930.12 249V266M930.12 288V301M930.12 331V336M930.12 357V424M930.12 440V478M930.12 495V513 M940.93 179V196M940.93 214V231M940.93 249V266M940.93 288V301M940.93 331V336M940.93 357V424M940.93 440V478M940.93 495V513 M951.73 179V196M951.73 214V231M951.73 249V266M951.73 288V301M951.73 331V336M951.73 357V424M951.73 440V478M951.73 495V513 M962.53 179V196M962.53 214V231M962.53 249V266M962.53 288V301M962.53 331V336M962.53 357V424M962.53 440V478M962.53 495V513 M973.34 179V196M973.34 214V231M973.34 249V266M973.34 288V301M973.34 331V336M973.34 357V424M973.34 440V478M973.34 495V513 M984.14 179V196M984.14 214V231M984.14 249V266M984.14 288V301M984.14 331V336M984.14 357V424M984.14 440V478M984.14 495V513 M994.94 179V196M994.94 214V231M994.94 249V266M994.94 288V301M994.94 331V336M994.94 357V424M994.94 440V478M994.94 495V513 M1005.75 179V196M1005.75 214V231M1005.75 249V266M1005.75 288V301M1005.75 331V336M1005.75 357V424M1005.75 440V478M1005.75 495V513 M1016.55 179V196M1016.55 214V231M1016.55 249V266M1016.55 288V301M1016.55 331V336M1016.55 357V424M1016.55 440V478M1016.55 495V513 M1027.35 179V196M1027.35 214V231M1027.35 249V266M1027.35 288V301M1027.35 331V336M1027.35 357V424M1027.35 440V478M1027.35 495V513 M1038.16 179V196M1038.16 214V231M1038.16 249V266M1038.16 288V301M1038.16 331V336M1038.16 357V424M1038.16 440V478M1038.16 495V513 M1048.96 179V196M1048.96 214V231M1048.96 249V266M1048.96 288V301M1048.96 331V336M1048.96 357V424M1048.96 440V478M1048.96 495V513 M1059.76 179V196M1059.76 214V231M1059.76 249V266M1059.76 288V301M1059.76 331V336M1059.76 357V424M1059.76 440V478M1059.76 495V513 M1070.56 179V196M1070.56 214V231M1070.56 249V266M1070.56 288V301M1070.56 331V336M1070.56 357V424M1070.56 440V478M1070.56 495V513" stroke="#dadaff" stroke-width="1.6" fill="none" opacity="0.11"/>
<text transform="translate(93.00,452.30) scale(1,1.08)" text-anchor="end" fill="#3c7d3c" font-size="14.08" stroke="#3c7d3c" stroke-width="0.6">15 Insect Cons</text>
<text transform="translate(106.00,437.80) scale(1,1.1)" text-anchor="end" fill="#3c7d3c" font-size="14.08" stroke="#3c7d3c" stroke-width="0.6">1</text>
<text transform="translate(106.60,474.00) scale(1,1.1)" text-anchor="end" fill="#3c7d3c" font-size="14.08" stroke="#3c7d3c" stroke-width="0.6">0</text>
<path d="M109.2 440.0H118M109.2 475.7H118" stroke="#3c7d3c" stroke-width="1.6"/>
<text transform="translate(118.60,509.00) scale(1,1.04)" text-anchor="end" fill="#6e0a28" font-size="14.08" stroke="#6e0a28" stroke-width="0.6">15 Insect El</text>
</svg>
</body></html>
